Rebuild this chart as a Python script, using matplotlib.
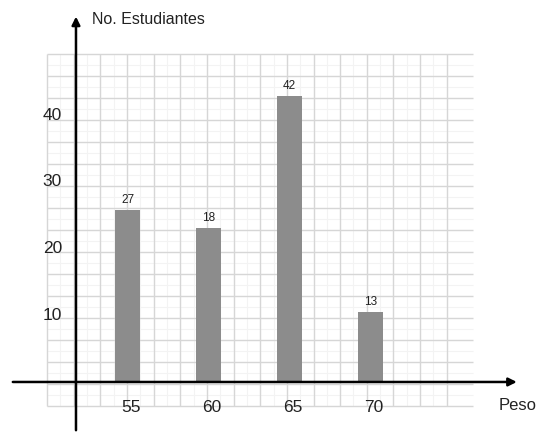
import numpy as np
import matplotlib
matplotlib.use('Agg')
import matplotlib.pyplot as plt

# Datos
pesos = [55, 60, 65, 70]
alturas = [25.8, 23.1, 42.9, 10.5]      # altura dibujada de cada barra
etiquetas = ['27', '18', '42', '13']    # texto encima de cada barra
marcas_y = [10, 20, 30, 40]

plt.rcParams['font.family'] = ['Liberation Sans', 'DejaVu Sans']

fig = plt.figure(figsize=(5.4, 4.33), dpi=100)
ax = fig.add_axes([0, 0, 1, 1])
ax.set_xlim(47.13, 80.46)
ax.set_ylim(-7.65, 57.27)
ax.axis('off')

# Cuadricula de fondo (lineas finas y lineas intermedias mas claras)
x0, x1 = 50.03, 76.3
y0, y1 = -3.6, 49.2
dx, dy = 1.645, 3.3
xs = np.arange(x0, x1 + 0.01, dx)
ys = np.arange(y0, y1 + 0.01, dy)
ax.vlines(xs[:-1] + dx / 2, y0, y1, color='#f3f3f3', lw=0.8, zorder=0)
ax.hlines(ys[:-1] + dy / 2, x0, x1, color='#f3f3f3', lw=0.8, zorder=0)
ax.vlines(xs, y0, y1, color='#d6d6d6', lw=1.0, zorder=1)
ax.hlines(ys, x0, x1, color='#d6d6d6', lw=1.0, zorder=1)

# Barras
ax.bar(pesos, alturas, width=1.55, color='#8c8c8c', zorder=3)
for p, h, t in zip(pesos, alturas, etiquetas):
    ax.text(p, h + 0.6, t, ha='center', va='bottom', fontsize=8.5, color='#222222', zorder=4)

# Ejes con flechas
ax.annotate('', xy=(79.2, 0), xytext=(47.75, 0),
            arrowprops=dict(arrowstyle='-|>', lw=1.8, color='black', mutation_scale=12), zorder=5)
ax.annotate('', xy=(51.82, 55.2), xytext=(51.82, -7.65),
            arrowprops=dict(arrowstyle='-|>', lw=1.8, color='black', mutation_scale=12), zorder=5)

# Etiquetas de los ejes
for v in marcas_y:
    ax.text(50.96, v, str(v), ha='right', va='center', fontsize=12.5, color='#222222', zorder=4)
for p in pesos:
    ax.text(p + 0.2, -3.9, str(p), ha='center', va='center', fontsize=12.5, color='#222222', zorder=4)

ax.text(52.8, 54.3, 'No. Estudiantes', ha='left', va='center', fontsize=11.5, color='#222222')
ax.text(77.9, -3.5, 'Peso', ha='left', va='center', fontsize=12, color='#222222')

fig.savefig('out.png', dpi=100)
